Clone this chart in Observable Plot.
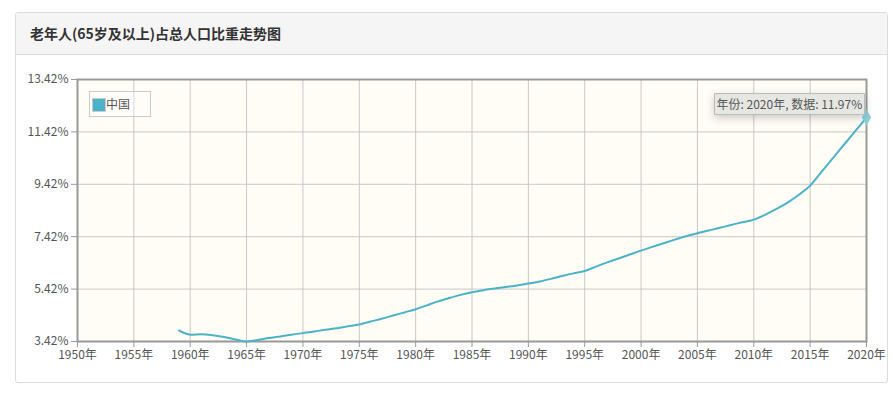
<!DOCTYPE html>
<html><head><meta charset="utf-8">
<script src="https://cdn.jsdelivr.net/npm/d3@7"></script>
<script src="https://cdn.jsdelivr.net/npm/@observablehq/plot@0.6"></script>
<style>
body{margin:0;background:#fff;font-family:"Noto Sans CJK SC","Noto Sans",sans-serif;}
#card{position:absolute;left:15px;top:12px;width:873px;height:371px;border:1px solid #dcdcdc;border-radius:3px;box-sizing:border-box;}
#head{position:absolute;left:0;top:0;right:0;height:41px;background:#f5f5f5;border-bottom:1px solid #dcdcdc;}
#title{position:absolute;left:14px;top:10px;font-size:14px;color:#333;font-weight:600;}
#chart{position:absolute;left:0;top:60px;}
#legend{position:absolute;left:89px;top:91px;width:62px;height:26px;border:1px solid #ccc;box-sizing:border-box;background:rgba(255,255,255,0.3);font-size:12px;color:#555;}
#legend .sw{position:absolute;left:2px;top:6px;width:12px;height:12px;background:#4bb3c9;border:1px solid #ccc;}
#legend .lb{position:absolute;left:16px;top:3px;}
</style></head>
<body>
<div id="card"><div id="head"><div id="title"></div></div></div>
<div id="chart"></div>
<div id="legend"><div class="sw"></div><div class="lb"></div></div>
<script>
const titleText = "老年人(65岁及以上)占总人口比重走势图";
const seriesName = "中国";
const years = [1959,1960,1961,1962,1963,1964,1965,1966,1967,1968,1969,1970,1971,1972,1973,1974,1975,1976,1977,1978,1979,1980,1981,1982,1983,1984,1985,1986,1987,1988,1989,1990,1991,1992,1993,1994,1995,1996,1997,1998,1999,2000,2001,2002,2003,2004,2005,2006,2007,2008,2009,2010,2011,2012,2013,2014,2015,2016,2017,2018,2019,2020];
const values = [3.84,3.68,3.70,3.66,3.59,3.50,3.42,3.48,3.55,3.61,3.68,3.74,3.80,3.87,3.93,4.00,4.07,4.18,4.29,4.41,4.53,4.65,4.80,4.95,5.08,5.20,5.30,5.38,5.44,5.50,5.56,5.63,5.71,5.81,5.92,6.02,6.11,6.28,6.44,6.59,6.74,6.89,7.03,7.17,7.31,7.44,7.55,7.66,7.76,7.87,7.97,8.07,8.25,8.48,8.72,9.02,9.37,9.89,10.41,10.93,11.45,11.97];
const yTicks = [3.42,5.42,7.42,9.42,11.42,13.42];
const xTicks = [1950,1955,1960,1965,1970,1975,1980,1985,1990,1995,2000,2005,2010,2015,2020];

document.getElementById("title").textContent = titleText;
document.querySelector("#legend .lb").textContent = seriesName;

const data = years.map((y,i)=>({year:y, value:values[i]}));
const last = data[data.length-1];
const color = "#4bb3c9";

const chart = Plot.plot({
  width: 893, height: 320,
  marginLeft: 77, marginRight: 27, marginTop: 19, marginBottom: 39,
  style: {fontFamily: '"Noto Sans CJK SC","Noto Sans",sans-serif', fontSize: "12px", color: "#555", background: "transparent"},
  x: {domain: [1950, 2020], ticks: xTicks, tickFormat: d => d + "年", tickSize: 6, tickPadding: 3, label: null},
  y: {domain: [3.42, 13.42], ticks: yTicks, tickFormat: d => d.toFixed(2) + "%", tickSize: 6, tickPadding: 2, label: null},
  marks: [
    Plot.frame({fill: "#fffdf6", stroke: null}),
    Plot.gridX(xTicks, {stroke: "#c8c8c8", strokeOpacity: 1}),
    Plot.gridY(yTicks, {stroke: "#c8c8c8", strokeOpacity: 1}),
    Plot.frame({stroke: "#999", strokeWidth: 2}),
    Plot.axisX({ticks: xTicks, tickFormat: d => d + "年", stroke: "#999", fill: "#555"}),
    Plot.axisY({ticks: yTicks, tickFormat: d => d.toFixed(2) + "%", stroke: "#999", fill: "#555"}),
    Plot.line(data, {x: "year", y: "value", stroke: color, strokeWidth: 2, curve: "monotone-x"}),
    Plot.dot([last], {x: "year", y: "value", symbol: "diamond", r: 5, fill: "#8fd0dc", stroke: null}),
    Plot.tip([last], {x: "year", y: "value", anchor: "bottom-right", pointerSize: 0, dy: -3, dx: -2,
      title: d => `年份: ${d.year}年, 数据: ${d.value.toFixed(2)}%`,
      fill: "#e6e6e3", stroke: "#bbb", textPadding: 2, fontSize: 12})
  ]
});
document.getElementById("chart").appendChild(chart);
</script>
</body></html>
